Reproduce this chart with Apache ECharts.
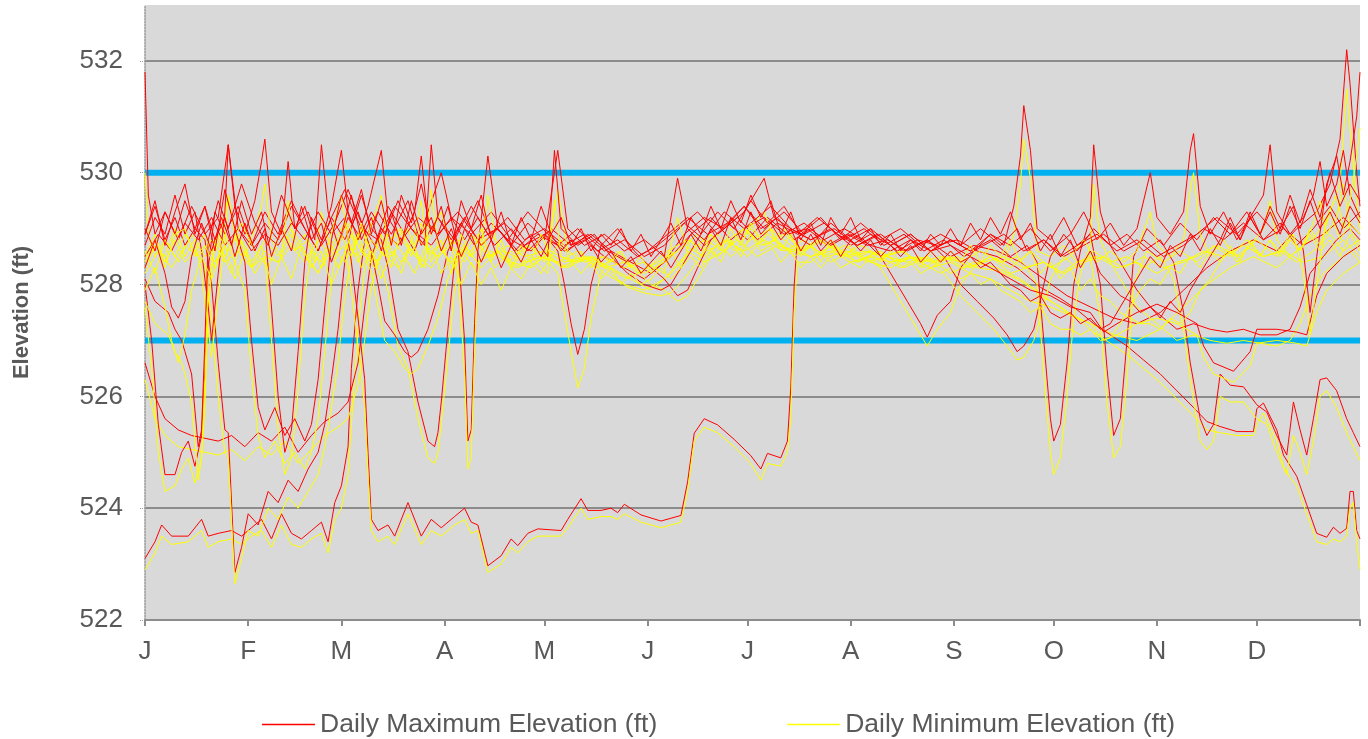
<!DOCTYPE html>
<html>
<head>
<meta charset="utf-8">
<title>Daily Elevation</title>
<script src="https://cdn.jsdelivr.net/npm/echarts@6/dist/echarts.min.js"></script>
<style>
  html, body { margin: 0; padding: 0; background: #fff; }
  #main { width: 1368px; height: 739px; }
</style>
</head>
<body>
<div id="main"></div>
<script>
// month starts (day of year) and their labels
const monthDays = [0, 31, 59, 90, 120, 151, 181, 212, 243, 273, 304, 334]
const monthLabels = ['J', 'F', 'M', 'A', 'M', 'J', 'J', 'A', 'S', 'O', 'N', 'D']
const yTicks = [522, 524, 526, 528, 530, 532]
const limitLines = [530, 527]

// one array per year: [day, daily max (ft), daily min (ft)]
const year1 = [[0,531.8,530.0],[1,529.6,528.9],[3,528.9,528.5],[6,529.3,528.8],[10,528.8,528.4],[14,529.4,528.9],[18,528.9,528.5],[22,529.2,528.7],[25,530.5,529.6],[28,529.0,528.6],
  [32,528.7,528.3],[36,529.3,528.8],[40,528.9,528.5],[44,529.5,529.0],[48,529.0,528.6],[52,528.6,528.2],[56,529.2,528.7],[60,529.7,529.1],[65,529.0,528.6],[70,528.8,528.4],
  [75,529.4,528.9],[80,529.0,528.6],[86,528.7,528.3],[92,529.2,528.8],[98,528.9,528.5],[104,529.3,528.9],[110,528.8,528.4],[116,528.6,528.3],[122,529.0,528.6],[128,528.7,528.4],
  [134,528.9,528.5],[140,528.6,528.3],[146,528.4,528.1],[152,528.2,527.9],[158,528.5,528.2],[164,528.9,528.6],[170,529.2,528.9],[176,528.8,528.5],[182,529.1,528.8],[188,529.4,529.0],
  [194,529.0,528.7],[200,528.8,528.5],[207,529.0,528.7],[214,528.7,528.4],[221,528.9,528.6],[228,528.6,528.3],[235,528.8,528.5],[242,528.5,528.2],[249,528.7,528.4],[256,528.6,528.3],
  [263,528.4,528.1],[270,528.1,527.8],[277,527.8,527.5],[284,527.6,527.3],[291,527.4,527.1],[298,527.3,527.0],[305,527.5,527.2],[312,527.9,527.6],[319,528.3,528.0],[326,528.6,528.3],
  [333,528.8,528.5],[340,528.6,528.3],[346,529.0,528.6],[352,529.3,528.9],[356,529.8,529.3],[359,530.6,529.8],[361,532.2,531.5],[362,531.6,530.8],[364,530.0,529.5],[365,529.4,529.0]]

const year2 = [[0,523.1,522.9],[3,523.4,523.2],[5,523.7,523.5],[8,523.5,523.35],[13,523.5,523.4],[17,523.8,523.6],[19,523.5,523.3],[22,523.55,523.4],[26,523.6,523.45],[29,523.5,523.35],
  [32,523.65,523.5],[35,523.8,523.6],[38,523.45,523.3],[41,523.9,523.7],[44,523.55,523.35],[47,523.45,523.3],[50,523.6,523.45],[53,523.75,523.55],[55,523.4,523.2],[57,524.1,523.8],
  [59,524.4,524.0],[61,525.1,524.6],[62,526.5,525.5],[64,527.9,527.2],[66,528.8,528.3],[70,529.3,528.8],[74,528.9,528.5],[79,529.5,529.0],[83,528.7,528.3],[88,529.2,528.7],
  [93,528.8,528.3],[98,529.4,528.9],[103,528.9,528.5],[108,529.1,528.6],[114,528.7,528.4],[120,528.9,528.5],[126,528.6,528.3],[132,528.8,528.5],[138,528.5,528.2],[144,528.3,528.0],
  [150,528.1,527.9],[156,528.4,528.1],[162,528.9,528.5],[168,529.2,528.8],[174,529.0,528.6],[180,529.4,529.0],[186,529.0,528.7],[192,529.3,528.9],[198,528.9,528.6],[204,529.1,528.8],
  [210,528.8,528.5],[216,529.0,528.6],[222,528.7,528.5],[228,528.9,528.6],[234,528.6,528.3],[240,528.8,528.5],[246,528.5,528.3],[252,528.7,528.4],[258,528.9,528.5],[264,528.6,528.3],
  [270,528.8,528.4],[276,528.5,528.2],[282,528.7,528.4],[288,528.9,528.5],[294,528.6,528.3],[300,528.8,528.5],[306,528.5,528.3],[312,528.7,528.4],[318,529.0,528.6],[324,528.8,528.5],
  [330,529.1,528.7],[336,528.8,528.5],[342,529.0,528.6],[348,528.7,528.4],[354,528.9,528.5],[360,529.2,528.8],[365,528.9,528.5]]

const year3 = [[0,526.6,526.3],[3,526.0,525.6],[6,525.6,525.3],[10,525.4,525.1],[14,525.3,525.05],[18,525.25,525.0],[22,525.2,524.95],[26,525.3,525.05],[30,525.1,524.85],[34,525.35,525.1],
  [38,525.2,524.95],[42,525.45,525.2],[46,525.0,524.8],[50,525.3,525.05],[54,525.55,525.3],[58,525.7,525.45],[61,525.9,525.6],[64,526.6,526.2],[66,527.6,527.0],[68,528.5,528.0],
  [71,529.0,528.6],[76,528.7,528.3],[82,529.2,528.8],[88,528.9,528.5],[94,529.3,528.8],[100,528.8,528.4],[106,529.0,528.6],[112,528.6,528.3],[118,528.9,528.5],[124,528.7,528.4],
  [130,529.0,528.6],[136,528.6,528.3],[142,528.8,528.5],[148,528.5,528.2],[154,528.7,528.4],[160,529.0,528.6],[166,529.3,528.9],[172,528.9,528.5],[178,529.2,528.8],[184,528.8,528.5],
  [190,529.1,528.7],[196,528.9,528.6],[202,529.2,528.8],[208,528.9,528.6],[214,528.7,528.4],[220,528.9,528.6],[226,528.6,528.4],[232,528.8,528.5],[238,528.7,528.4],[244,528.8,528.5],
  [250,528.6,528.3],[256,528.5,528.25],[262,528.3,528.1],[266,528.1,527.95],[269,527.95,527.8],[275,527.75,527.6],[280,527.55,527.4],[285,527.3,527.15],[290,527.1,526.95],[295,526.9,526.75],
  [300,526.65,526.5],[305,526.4,526.25],[310,526.1,525.95],[315,525.8,525.65],[319,525.55,525.4],[323,525.46,525.35],[328,525.37,525.3],[333,525.37,525.3],[334,525.78,525.5],[336,525.88,525.7],
  [340,525.4,525.2],[342,524.95,524.75],[344,524.76,524.55],[346,524.57,524.4],[349,524.06,523.9],[352,523.55,523.4],[355,523.48,523.35],[357,523.66,523.45],[359,523.55,523.4],[361,523.64,523.5],
  [362,524.3,524.0],[363,524.3,524.1],[364,523.6,523.4],[365,523.45,522.9]]

const year4 = [[0,528.9,528.5],[3,529.4,528.9],[6,528.8,528.4],[9,529.2,528.8],[12,528.7,528.4],[15,529.0,528.6],[18,528.8,528.3],[20,528.0,527.4],[22,526.6,526.0],[24,525.4,525.0],
  [25,525.35,524.9],[27,522.85,522.65],[29,523.3,523.1],[31,523.9,523.6],[34,523.7,523.5],[37,524.3,524.0],[40,524.1,523.8],[43,524.5,524.2],[46,524.3,524.0],[49,524.7,524.3],
  [52,525.0,524.6],[54,525.5,525.1],[56,526.3,525.8],[58,527.2,526.6],[60,528.4,527.8],[62,529.0,528.5],[65,529.6,529.0],[68,529.0,528.6],[71,528.8,528.3],[73,528.3,527.9],
  [76,527.2,526.9],[79,526.8,526.5],[82,525.9,525.6],[85,525.2,524.9],[87,525.1,524.8],[88,525.35,525.0],[89,525.9,525.5],[91,527.2,526.7],[93,528.4,527.9],[96,529.0,528.6],
  [100,529.5,528.9],[104,528.9,528.5],[109,529.2,528.7],[114,528.8,528.5],[120,529.0,528.6],[126,528.7,528.4],[132,528.9,528.5],[138,528.6,528.3],[144,528.8,528.4],[150,528.5,528.2],
  [156,528.7,528.4],[162,529.1,528.7],[168,528.8,528.5],[174,529.3,528.8],[180,529.0,528.6],[186,529.2,528.8],[192,528.9,528.6],[198,529.1,528.8],[204,528.8,528.5],[210,529.0,528.7],
  [216,528.8,528.5],[221,528.5,528.3],[225,528.1,527.9],[229,527.7,527.5],[233,527.3,527.1],[235,527.06,526.9],[238,527.45,527.2],[242,527.7,527.5],[245,528.3,528.0],[249,528.6,528.3],
  [254,528.9,528.5],[258,528.7,528.4],[261,529.4,528.9],[263,530.3,529.8],[264,531.2,530.6],[266,530.4,529.9],[268,529.0,528.6],[272,528.8,528.5],[276,529.2,528.7],[280,528.7,528.4],
  [284,528.9,528.5],[287,528.0,527.4],[289,526.5,525.9],[291,525.3,524.9],[293,525.6,525.1],[295,527.0,526.3],[297,528.5,528.0],[301,529.0,528.6],[306,528.7,528.4],[311,529.1,528.6],
  [316,528.8,528.4],[321,529.2,528.7],[326,528.9,528.5],[331,529.3,528.8],[336,528.8,528.5],[341,529.1,528.6],[346,528.7,528.4],[351,529.0,528.6],[356,529.4,528.9],[360,529.0,528.6],
  [365,529.3,528.8]]

const year5 = [[0,528.0,527.6],[2,527.0,526.5],[4,525.5,525.0],[6,524.6,524.3],[9,524.6,524.4],[11,525.0,524.7],[13,525.2,524.9],[15,524.75,524.45],[17,525.3,524.9],[18,526.5,525.8],
  [19,528.3,527.6],[21,529.3,528.8],[24,528.9,528.5],[28,529.4,528.9],[32,528.7,528.3],[36,529.1,528.6],[40,528.8,528.4],[44,529.4,528.9],[48,529.0,528.5],[52,528.6,528.2],
  [56,529.2,528.7],[60,528.8,528.4],[64,529.3,528.9],[68,528.6,528.2],[70,528.0,527.6],[72,527.35,527.0],[75,527.1,526.8],[78,526.8,526.5],[80,526.7,526.4],[82,526.8,526.5],
  [85,527.2,526.9],[88,527.8,527.4],[91,528.6,528.1],[95,529.1,528.6],[99,528.7,528.3],[104,529.1,528.6],[109,528.8,528.4],[115,529.3,528.7],[121,528.9,528.5],[127,528.6,528.3],
  [133,528.9,528.5],[139,528.6,528.3],[145,528.4,528.1],[151,528.6,528.3],[157,528.9,528.6],[163,529.2,528.8],[169,528.9,528.6],[175,529.1,528.8],[181,528.8,528.5],[187,529.2,528.9],
  [193,528.9,528.6],[199,529.0,528.7],[205,528.7,528.5],[211,528.9,528.6],[217,528.7,528.4],[223,528.8,528.5],[229,528.6,528.4],[235,528.8,528.5],[240,528.5,528.2],[245,528.0,527.8],
  [250,527.7,527.5],[255,527.4,527.2],[259,527.1,526.9],[262,526.8,526.65],[264,526.9,526.7],[267,527.2,527.0],[270,528.0,527.6],[272,528.5,528.1],[276,528.9,528.5],[280,528.6,528.3],
  [285,529.0,528.6],[290,528.7,528.4],[295,528.9,528.5],[300,528.6,528.3],[305,528.8,528.5],[309,528.4,528.1],[312,527.5,527.2],[314,526.6,526.3],[317,525.6,525.2],[319,525.3,525.05],
  [321,525.5,525.2],[323,526.4,526.0],[326,526.2,525.9],[330,526.17,525.9],[334,525.85,525.6],[337,525.72,525.5],[340,525.3,525.0],[343,524.95,524.6],[345,525.9,525.3],[347,525.4,525.0],
  [349,524.95,524.6],[351,525.6,525.2],[353,526.3,526.0],[355,526.33,526.1],[358,526.1,525.8],[361,525.6,525.35],[363,525.35,525.1],[365,525.1,524.85]]

const year6 = [[0,528.7,528.3],[3,529.2,528.7],[6,528.9,528.5],[9,529.6,529.0],[12,528.9,528.5],[15,529.3,528.8],[17,528.6,528.2],[19,527.6,527.2],[20,527.0,526.7],[22,528.2,527.8],
  [24,529.3,528.8],[25,530.5,529.6],[27,529.4,528.9],[30,528.9,528.5],[33,529.5,529.0],[35,530.2,529.4],[36,530.6,529.8],[38,529.3,528.8],[41,528.9,528.5],[43,530.2,529.5],
  [45,529.0,528.6],[48,529.4,528.9],[51,528.8,528.4],[53,530.5,529.3],[55,529.3,528.8],[58,528.7,528.3],[61,529.2,528.7],[64,528.9,528.5],[67,529.4,528.9],[71,530.4,529.6],
  [73,529.2,528.7],[77,528.8,528.4],[81,529.3,528.9],[83,530.3,529.5],[85,529.1,528.6],[88,528.9,528.5],[91,529.4,528.9],[94,528.7,528.3],[96,527.0,526.4],[97,525.2,524.7],
  [98,525.4,524.9],[99,527.3,526.8],[100,528.6,528.2],[103,530.3,529.6],[106,529.0,528.6],[110,528.7,528.3],[115,529.1,528.7],[120,528.8,528.4],[124,530.4,529.7],[127,529.0,528.6],
  [132,528.7,528.4],[138,528.9,528.5],[144,528.6,528.3],[150,528.8,528.4],[156,528.5,528.2],[160,529.9,529.2],[163,529.0,528.6],[168,528.7,528.4],[174,529.0,528.6],[180,529.3,528.9],
  [186,529.9,529.3],[189,529.2,528.8],[194,529.0,528.6],[200,528.8,528.5],[206,529.0,528.6],[212,528.7,528.4],[218,528.9,528.5],[224,528.7,528.4],[230,528.9,528.5],[236,528.6,528.4],
  [242,528.8,528.5],[248,528.6,528.3],[254,528.8,528.5],[260,528.5,528.2],[265,528.7,528.3],[268,528.4,528.0],[270,527.0,526.4],[272,525.6,525.0],[273,525.2,524.6],[275,525.5,524.9],
  [277,526.6,526.0],[279,528.0,527.4],[281,528.6,528.2],[284,529.2,528.7],[285,530.5,529.8],[287,529.3,528.8],[290,528.7,528.4],[294,528.3,528.0],[298,527.9,527.6],[302,527.6,527.4],
  [306,527.4,527.2],[310,527.2,527.0],[315,527.3,527.1],[320,527.2,527.0],[325,527.15,526.95],[330,527.2,527.0],[335,527.1,526.95],[340,527.1,526.9],[344,527.2,527.0],[347,527.6,527.3],
  [350,528.2,527.8],[354,528.5,528.2],[358,528.8,528.4],[362,529.0,528.6],[365,528.8,528.4]]

const year7 = [[0,528.5,528.2],[4,528.9,528.6],[8,528.6,528.3],[12,529.1,528.7],[16,528.8,528.5],[20,529.2,528.8],[24,528.7,528.4],[28,529.0,528.6],[32,528.6,528.3],[36,528.9,528.5],
  [40,528.7,528.4],[44,529.1,528.7],[48,528.8,528.4],[52,529.3,528.8],[56,528.9,528.5],[60,529.2,528.7],[62,528.4,527.9],[64,527.4,526.9],[66,526.3,525.8],[67,525.0,524.6],
  [68,523.8,523.6],[70,523.6,523.4],[73,523.7,523.5],[75,523.5,523.35],[79,524.1,523.9],[83,523.5,523.35],[86,523.8,523.6],[89,523.65,523.5],[93,523.85,523.7],[96,524.0,523.8],
  [98,523.75,523.55],[100,523.7,523.6],[103,522.97,522.85],[107,523.15,523.0],[110,523.45,523.3],[112,523.33,523.2],[115,523.55,523.4],[118,523.63,523.5],[125,523.6,523.5],[127,523.8,523.65],
  [131,524.17,524.0],[133,523.96,523.8],[137,523.96,523.85],[140,524.0,523.85],[142,523.92,523.8],[144,524.07,523.9],[149,523.88,523.75],[155,523.77,523.65],[158,523.82,523.7],[161,523.87,523.75],
  [163,524.47,524.3],[165,525.34,525.2],[168,525.6,525.45],[172,525.49,525.35],[177,525.23,525.1],[182,524.94,524.8],[185,524.7,524.5],[187,524.98,524.8],[191,524.9,524.75],[193,525.2,525.0],
  [194,526.15,525.6],[195,527.97,527.5],[196,528.85,528.4],[200,528.7,528.4],[206,529.1,528.7],[212,528.8,528.5],[218,529.0,528.6],[224,528.7,528.4],[230,528.9,528.5],[236,528.6,528.3],
  [242,528.8,528.5],[248,528.6,528.3],[254,528.9,528.5],[260,528.7,528.3],[266,529.0,528.6],[272,528.6,528.3],[278,528.9,528.5],[282,529.3,528.8],[286,528.8,528.4],[290,529.1,528.6],
  [294,528.7,528.4],[298,529.0,528.6],[302,530.0,529.3],[304,529.2,528.7],[308,528.9,528.5],[312,529.3,528.8],[314,530.4,529.7],[315,530.7,530.0],[317,529.4,528.9],[320,528.9,528.5],
  [324,529.3,528.8],[328,528.8,528.4],[332,529.2,528.7],[336,529.6,529.0],[338,530.5,529.5],[340,529.3,528.8],[344,528.9,528.5],[348,529.2,528.7],[351,529.6,529.1],[353,530.2,529.5],
  [355,529.4,528.9],[358,529.8,529.2],[360,530.4,529.8],[362,529.6,529.0],[365,529.2,528.7]]

const year8 = [[0,528.1,527.7],[3,527.7,527.3],[5,527.6,527.2],[7,527.5,527.1],[9,527.2,526.8],[11,527.0,526.6],[12,526.8,526.4],[14,526.4,525.9],[16,525.1,524.5],[17,525.4,524.9],
  [18,527.0,526.3],[19,528.8,528.1],[22,529.5,528.9],[25,529.0,528.6],[29,529.8,529.1],[33,529.1,528.6],[37,528.7,528.3],[41,529.6,529.0],[45,529.0,528.6],[49,529.3,528.8],
  [53,528.7,528.3],[57,529.1,528.7],[61,529.7,529.1],[65,529.1,528.6],[69,528.7,528.3],[73,529.4,528.9],[77,529.0,528.6],[81,528.6,528.2],[85,529.3,528.8],[89,530.0,529.3],
  [92,529.2,528.7],[96,528.8,528.4],[100,529.2,528.8],[105,528.7,528.3],[110,529.0,528.6],[115,528.6,528.3],[120,528.9,528.5],[124,528.6,528.2],[126,528.0,527.5],[128,527.3,526.8],
  [130,526.75,526.15],[132,527.2,526.5],[134,528.0,527.4],[137,528.7,528.2],[142,529.0,528.6],[147,528.6,528.3],[152,528.3,528.0],[156,528.1,527.9],[160,527.8,527.7],[163,527.9,527.8],
  [166,528.3,528.1],[170,528.8,528.5],[175,529.1,528.8],[180,529.4,529.0],[185,529.0,528.7],[190,529.2,528.8],[195,528.8,528.5],[200,529.0,528.7],[206,528.7,528.4],[212,528.9,528.6],
  [218,528.7,528.4],[224,528.6,528.3],[230,528.8,528.5],[236,528.6,528.3],[242,528.7,528.4],[248,528.5,528.2],[254,528.3,528.1],[260,528.1,527.9],[266,527.9,527.7],[272,527.8,527.6],
  [278,527.6,527.45],[284,527.5,527.3],[288,527.15,527.0],[292,527.3,527.1],[298,527.5,527.3],[304,527.65,527.4],[310,527.5,527.3],[316,527.3,527.1],[318,526.9,526.7],[321,526.6,526.4],
  [327,526.45,526.25],[332,526.8,526.55],[334,527.2,526.95],[340,527.2,527.0],[346,527.15,526.95],[349,527.1,526.9],[352,527.8,527.5],[355,528.2,527.9],[360,528.5,528.2],[365,528.7,528.4]]

const year9 = [[0,529.0,528.6],[3,528.6,528.2],[6,529.3,528.8],[9,528.9,528.5],[12,529.5,528.9],[15,529.0,528.6],[18,529.4,528.9],[21,528.8,528.4],[24,529.2,528.7],[27,528.5,528.1],
  [30,529.1,528.6],[33,528.6,528.2],[36,529.0,528.5],[38,527.6,527.0],[40,526.0,525.4],[42,525.0,524.6],[44,525.4,524.9],[46,526.8,526.1],[48,528.4,527.8],[50,529.2,528.6],
  [53,528.8,528.4],[56,529.4,528.9],[59,530.4,529.6],[61,529.3,528.8],[64,528.8,528.4],[68,529.3,528.8],[72,528.9,528.5],[76,529.5,529.0],[80,529.0,528.6],[84,528.7,528.3],
  [86,530.5,529.7],[88,529.2,528.7],[92,528.8,528.4],[96,529.2,528.7],[101,528.7,528.3],[106,529.0,528.6],[111,528.6,528.3],[116,528.9,528.5],[121,528.5,528.2],[123,530.4,529.5],
  [125,529.0,528.5],[130,528.7,528.4],[135,528.9,528.5],[140,528.5,528.2],[145,528.2,527.95],[150,528.0,527.85],[155,527.9,527.8],[158,528.0,527.85],[162,528.4,528.1],[167,528.9,528.5],
  [172,529.3,528.9],[177,529.0,528.6],[182,529.5,529.0],[187,529.1,528.7],[192,529.4,529.0],[197,528.9,528.6],[203,529.2,528.8],[209,528.8,528.5],[215,529.1,528.7],[221,528.8,528.5],
  [227,529.0,528.6],[233,528.7,528.4],[239,528.9,528.5],[245,528.7,528.4],[251,529.0,528.6],[257,528.7,528.4],[262,529.0,528.5],[265,528.6,528.3],[270,528.8,528.4],[275,528.5,528.2],
  [280,528.7,528.4],[286,528.9,528.5],[292,528.6,528.3],[298,528.8,528.4],[304,528.5,528.2],[310,528.7,528.4],[316,528.9,528.5],[322,529.2,528.7],[328,528.9,528.5],[334,529.3,528.8],
  [340,528.9,528.5],[345,529.4,528.9],[348,528.6,528.2],[350,527.5,527.1],[352,528.5,528.0],[355,529.8,529.2],[358,530.3,529.6],[360,529.6,529.0],[362,530.2,529.5],[364,531.0,530.3],
  [365,531.8,530.8]]

const year10 = [[0,528.9,528.4],[3,529.5,528.8],[6,528.7,528.3],[9,529.3,528.9],[12,529.8,529.0],[15,528.9,528.5],[18,529.4,528.7],[21,528.6,528.3],[24,529.7,528.9],[27,529.0,528.4],
  [30,528.4,527.9],[32,527.0,526.4],[34,525.8,525.3],[36,525.4,524.9],[39,525.8,525.2],[42,525.3,524.8],[45,525.6,525.0],[48,525.2,524.7],[50,525.5,525.0],[52,526.3,525.6],
  [54,527.6,526.8],[56,528.8,528.1],[59,529.6,528.9],[62,529.1,528.5],[65,529.7,529.1],[68,528.9,528.4],[71,529.5,528.9],[74,528.7,528.3],[77,529.6,529.0],[80,529.1,528.5],
  [83,529.8,529.1],[86,528.9,528.4],[89,529.4,528.8],[92,528.6,528.2],[95,529.5,528.9],[98,529.0,528.5],[101,529.6,529.0],[104,528.8,528.4],[107,529.3,528.8],[110,528.7,528.3],
  [113,529.2,528.7],[116,528.8,528.4],[119,529.4,528.9],[122,528.9,528.5],[125,529.2,528.8],[128,528.7,528.4],[131,529.0,528.6],[134,528.6,528.3],[137,528.9,528.5],[140,528.7,528.4],
  [143,529.0,528.6],[146,528.6,528.3],[149,528.9,528.5],[152,528.5,528.2],[155,528.8,528.4],[158,529.1,528.6],[161,528.7,528.3],[164,529.2,528.8],[167,528.9,528.5],[170,529.4,528.9],
  [173,529.0,528.6],[176,529.5,529.0],[179,529.1,528.7],[182,529.6,529.1],[185,529.2,528.8],[188,529.5,529.0],[191,528.9,528.6],[194,529.3,528.9],[197,528.8,528.5],[200,529.1,528.7],
  [203,528.7,528.4],[206,529.2,528.8],[209,528.9,528.6],[212,529.2,528.7],[215,528.8,528.5],[218,529.0,528.6],[221,528.7,528.4],[224,528.9,528.6],[227,528.6,528.4],[230,528.8,528.5],
  [233,528.6,528.3],[236,528.9,528.6],[239,528.7,528.4],[242,529.0,528.6],[245,528.7,528.4],[248,529.1,528.7],[251,528.8,528.4],[254,529.2,528.7],[257,528.9,528.5],[260,529.3,528.8],
  [263,528.8,528.4],[266,529.1,528.6],[269,528.6,528.2],[272,528.9,528.4],[275,528.5,528.1],[278,528.8,528.3],[281,528.3,527.9],[284,528.6,528.1],[287,528.2,527.8],[290,528.0,527.7],
  [293,527.8,527.5],[296,527.7,527.4],[299,527.5,527.3],[302,527.6,527.3],[305,527.4,527.2],[308,527.7,527.4],[311,527.5,527.3],[314,527.9,527.5],[317,528.2,527.9],[320,528.5,528.1],
  [323,528.8,528.4],[326,529.2,528.7],[329,528.8,528.4],[332,529.3,528.8],[335,528.9,528.5],[338,529.4,528.8],[341,529.0,528.6],[344,529.6,528.9],[347,529.1,528.6],[350,529.7,529.0],
  [353,529.2,528.7],[356,530.0,529.3],[359,529.4,528.8],[362,529.8,529.1],[365,529.5,528.9]]

const year11 = [[0,528.3,527.9],[3,528.8,528.3],[6,528.2,527.6],[8,527.6,527.0],[10,527.4,526.6],[12,527.7,527.1],[14,528.5,527.9],[17,529.1,528.5],[20,528.6,528.1],[23,529.2,528.6],
  [26,528.7,528.2],[29,529.5,528.8],[32,528.9,528.4],[35,529.3,528.7],[38,528.5,528.0],[41,529.0,528.5],[44,528.6,528.1],[47,529.4,528.7],[50,528.8,528.3],[53,529.1,528.6],
  [56,528.4,528.0],[59,528.9,528.4],[62,529.6,528.9],[65,528.8,528.3],[68,529.2,528.6],[71,528.6,528.1],[74,529.3,528.6],[77,528.7,528.2],[80,529.5,528.8],[83,528.9,528.4],
  [86,529.2,528.7],[89,528.6,528.2],[92,529.0,528.5],[95,528.5,528.0],[98,528.9,528.4],[101,528.4,528.0],[104,528.8,528.3],[107,528.3,527.9],[110,528.7,528.3],[113,528.4,528.1],
  [116,528.8,528.4],[119,528.5,528.2],[122,528.9,528.5],[125,528.6,528.3],[128,528.8,528.4],[131,528.5,528.2],[134,528.7,528.4],[137,528.4,528.1],[140,528.6,528.3],[143,528.3,528.0],
  [146,528.5,528.2],[149,528.2,528.0],[152,528.4,528.1],[155,528.6,528.3],[158,528.3,528.1],[161,528.6,528.3],[164,528.9,528.5],[167,528.6,528.3],[170,529.0,528.6],[173,528.7,528.4],
  [176,529.2,528.8],[179,528.8,528.5],[182,529.3,528.9],[185,528.9,528.6],[188,529.1,528.7],[191,528.8,528.4],[194,529.0,528.6],[197,528.6,528.3],[200,528.9,528.5],[203,528.6,528.3],
  [206,528.8,528.5],[209,528.5,528.3],[212,528.8,528.4],[215,528.6,528.3],[218,528.8,528.5],[221,528.5,528.3],[224,528.7,528.4],[227,528.5,528.3],[230,528.7,528.4],[233,528.4,528.2],
  [236,528.6,528.3],[239,528.4,528.2],[242,528.6,528.3],[245,528.4,528.1],[248,528.5,528.2],[251,528.3,528.0],[254,528.4,528.1],[257,528.2,527.9],[260,528.0,527.8],[263,527.9,527.7],
  [266,527.7,527.5],[269,527.8,527.6],[272,527.5,527.3],[275,527.4,527.2],[278,527.5,527.2],[281,527.3,527.1],[284,527.4,527.2],[287,527.2,527.0],[290,527.3,527.05],[293,527.6,527.3],
  [296,527.9,527.6],[299,528.2,527.9],[302,528.5,528.1],[305,528.3,528.0],[308,528.7,528.3],[311,528.5,528.2],[314,528.9,528.5],[317,528.6,528.3],[320,529.0,528.6],[323,528.7,528.4],
  [326,529.1,528.6],[329,528.8,528.5],[332,529.2,528.7],[335,528.9,528.5],[338,529.3,528.8],[341,528.9,528.5],[344,529.4,528.8],[347,529.0,528.6],[350,529.5,528.9],[353,529.0,528.6],
  [356,529.3,528.8],[359,528.9,528.5],[362,529.4,528.9],[365,529.1,528.6]]

const years = [year1, year2, year3, year4, year5, year6, year7, year8, year9, year10, year11]

const MAX_NAME = 'Daily Maximum Elevation (ft)'
const MIN_NAME = 'Daily Minimum Elevation (ft)'
const textColor = '#595959'

const series = []
limitLines.forEach((v) => {
  series.push({
    type: 'line',
    name: 'limit',
    data: [[0, v], [365, v]],
    showSymbol: false,
    silent: true,
    lineStyle: { color: '#00B0F0', width: 6 }
  })
})
years.forEach((yr) => {
  series.push({
    type: 'line',
    name: MAX_NAME,
    data: yr.map((r) => [r[0], r[1]]),
    showSymbol: false,
    lineStyle: { color: '#FF0000', width: 1 },
    itemStyle: { color: '#FF0000' }
  })
  series.push({
    type: 'line',
    name: MIN_NAME,
    data: yr.map((r) => [r[0], r[2]]),
    showSymbol: false,
    lineStyle: { color: '#FFFF00', width: 1 },
    itemStyle: { color: '#FFFF00' }
  })
})

const chart = echarts.init(document.getElementById('main'))
chart.setOption({
  animation: false,
  textStyle: { fontFamily: 'Liberation Sans, Arial, sans-serif' },
  grid: {
    left: 145, right: 8, top: 5, bottom: 119,
    show: true, backgroundColor: '#D9D9D9', borderWidth: 0
  },
  legend: {
    data: [MAX_NAME, MIN_NAME],
    left: 262,
    top: 711,
    padding: 0,
    icon: 'rect',
    itemWidth: 53,
    itemHeight: 1.5,
    itemGap: 130,
    textStyle: { fontSize: 26.5, color: textColor }
  },
  xAxis: {
    type: 'value',
    min: 0,
    max: 365,
    axisLine: { show: true, lineStyle: { color: '#8c8c8c', width: 2 } },
    axisTick: {
      show: true, length: 6, customValues: monthDays.concat([365]),
      lineStyle: { color: '#8c8c8c', width: 2 }
    },
    axisLabel: {
      customValues: monthDays,
      formatter: (v) => monthLabels[monthDays.indexOf(v)],
      fontSize: 26, color: textColor, margin: 19
    },
    splitLine: { show: false }
  },
  yAxis: {
    type: 'value',
    min: 522,
    max: 533,
    interval: 2,
    name: 'Elevation (ft)',
    nameLocation: 'middle',
    nameGap: 112,
    nameTextStyle: { fontSize: 22, fontWeight: 'bold', color: textColor },
    axisLine: { show: true, lineStyle: { color: '#9a9a9a', width: 1.5, type: 'dotted' } },
    axisTick: { show: true, length: 6, lineStyle: { color: '#9a9a9a', type: 'dotted' } },
    axisLabel: {
      fontSize: 26, color: textColor, margin: 22, showMaxLabel: false,
      formatter: (v) => (yTicks.indexOf(v) >= 0 ? String(v) : '')
    },
    splitLine: { show: true, showMaxLine: false, lineStyle: { color: '#8c8c8c', width: 2 } }
  },
  series: series
})
</script>
</body>
</html>
